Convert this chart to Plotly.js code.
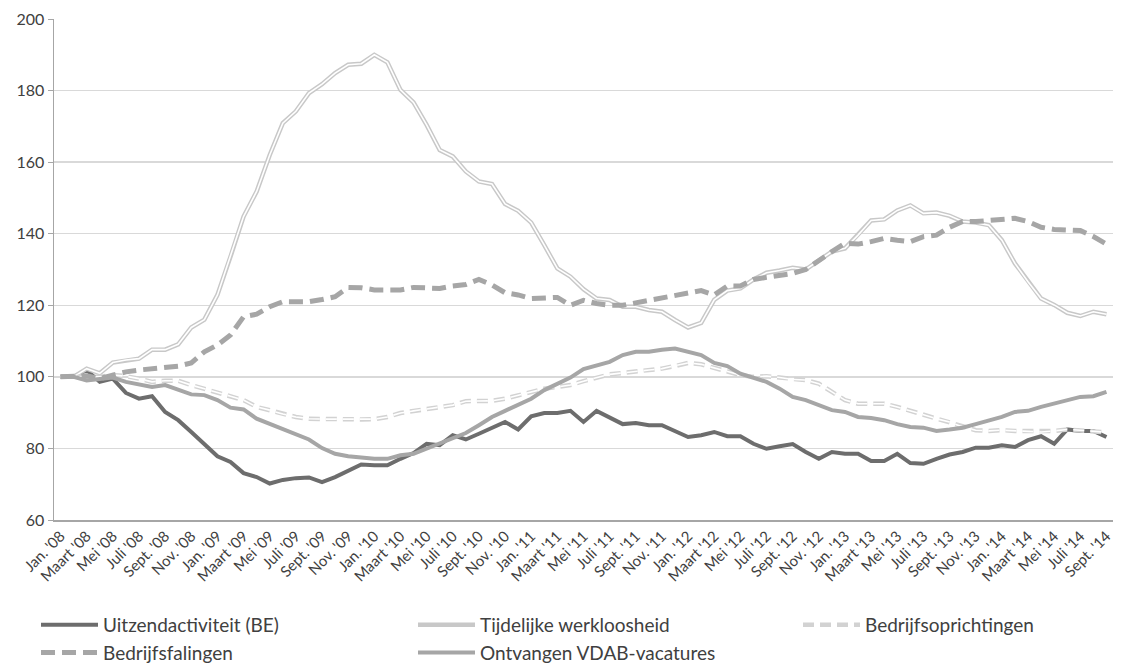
<!DOCTYPE html>
<html>
<head>
<meta charset="utf-8">
<script src="https://cdn.plot.ly/plotly-3.0.1.min.js"></script>
<style>
html,body{margin:0;padding:0;background:#fff;}
#chart{width:1126px;height:663px;}
</style>
</head>
<body>
<div id="chart"></div>
<script>
// Month labels (Jan. '08 .. Sept. '14), monthly data; labels shown every 2 months
const monthNames = ["Jan.", "Febr.", "Maart", "April", "Mei", "Juni", "Juli", "Aug.", "Sept.", "Okt.", "Nov.", "Dec."];
const years = ["08", "09", "10", "11", "12", "13", "14"];
const months = [];
years.forEach(y => monthNames.forEach(m => months.push(m + " '" + y)));
months.length = 81;

const uitzendactiviteit = [
  100, 100, 101.9, 98.6, 99.5, 95.5, 93.9, 94.6, 90.2, 87.9, 84.6, 81.3,
  77.8, 76.2, 73.1, 72.0, 70.2, 71.2, 71.7, 71.9, 70.6, 72.0, 73.8, 75.5,
  75.3, 75.3, 77.1, 78.7, 81.3, 80.9, 83.7, 82.5, 84.1, 85.8, 87.4, 85.3,
  89.0, 89.9, 89.9, 90.5, 87.4, 90.5, 88.8, 86.8, 87.1, 86.5, 86.5, 84.9,
  83.2, 83.7, 84.6, 83.4, 83.4, 81.3, 79.9, 80.6, 81.2, 79.0, 77.1, 79.0,
  78.5, 78.5, 76.5, 76.5, 78.5, 75.9, 75.7, 77.1, 78.3, 79.0, 80.2, 80.2,
  80.9, 80.4, 82.3, 83.4, 81.3, 85.3, 84.9, 84.9, 83.2
];
const tijdelijkeWerkloosheid = [
  100, 100, 102.3, 101.0, 104.0, 104.7, 105.1, 107.6, 107.6, 109.1, 113.8, 116.0,
  122.9, 133.6, 144.8, 151.8, 162.0, 170.9, 174.2, 179.3, 181.8, 184.9, 187.2, 187.5,
  190.0, 187.9, 180.2, 176.7, 170.4, 163.4, 161.6, 157.4, 154.6, 153.9, 148.3, 146.4,
  143.1, 136.8, 130.3, 128.0, 124.5, 121.9, 121.5, 119.6, 119.6, 118.7, 118.2, 115.9,
  113.8, 115.1, 121.5, 124.1, 124.7, 127.2, 129.1, 129.7, 130.5, 130.0, 132.6, 135.0,
  135.9, 139.6, 143.7, 144.0, 146.5, 147.9, 145.7, 145.9, 145.0, 143.4, 143.1, 142.4,
  138.2, 131.7, 126.6, 121.9, 120.1, 117.9, 117.0, 118.2, 117.5
];
const bedrijfsoprichtingen = [
  100, 100, 100, 100, 100.5, 100.2, 99.5, 98.6, 98.9, 98.9, 97.7, 96.7,
  95.8, 94.6, 93.5, 91.6, 90.7, 89.6, 88.8, 88.3, 88.2, 88.2, 88.2, 88.1,
  88.2, 88.8, 89.9, 90.5, 91.1, 91.6, 92.1, 93.2, 93.3, 93.3, 93.9, 94.9,
  95.8, 96.7, 97.2, 97.7, 98.8, 99.8, 100.7, 101.1, 101.4, 101.9, 102.3, 103.0,
  103.9, 103.5, 102.5, 101.4, 100.5, 100.0, 100.2, 99.8, 99.3, 99.1, 98.1, 95.8,
  93.5, 92.5, 92.4, 92.5, 91.6, 90.5, 89.3, 88.3, 87.4, 86.0, 85.1, 84.9,
  85.1, 84.9, 84.9, 84.6, 84.9, 85.3, 85.1, 84.9, 84.5
];
const bedrijfsfalingen = [
  100, 100, 100.3, 99.5, 100.5, 101.4, 101.9, 102.3, 102.6, 103.0, 103.9, 107.0,
  108.9, 111.7, 116.8, 117.5, 119.6, 121.0, 121.0, 121.0, 121.6, 122.4, 125.0, 124.9,
  124.3, 124.3, 124.3, 125.0, 124.7, 124.7, 125.4, 125.8, 127.2, 125.7, 123.5, 122.9,
  121.9, 121.9, 122.2, 120.0, 121.4, 120.5, 120.0, 120.0, 120.7, 121.5, 122.2, 122.9,
  123.5, 124.1, 122.9, 125.4, 125.4, 127.2, 127.8, 128.5, 128.9, 130.0, 132.6, 135.0,
  137.3, 137.1, 137.8, 138.7, 138.2, 137.8, 139.2, 139.6, 141.8, 143.4, 143.4, 143.6,
  143.8, 144.3, 143.4, 141.8, 141.2, 141.2, 140.9, 139.2, 137.1
];
const vdabVacatures = [
  100, 100, 99.0, 99.5, 99.8, 98.6, 97.9, 97.2, 97.7, 96.5, 95.1, 94.9,
  93.5, 91.4, 90.9, 88.3, 86.9, 85.5, 84.1, 82.5, 80.1, 78.5, 77.8, 77.4,
  77.1, 77.1, 78.1, 78.5, 79.9, 81.2, 82.7, 84.3, 86.5, 88.8, 90.5, 92.1,
  93.9, 96.3, 98.1, 99.8, 102.2, 103.3, 104.2, 106.1, 107.0, 107.0, 107.6, 107.9,
  107.0, 106.1, 103.9, 103.0, 100.9, 99.8, 98.6, 96.7, 94.4, 93.5, 92.1, 90.7,
  90.2, 88.8, 88.5, 87.9, 86.8, 86.0, 85.8, 84.9, 85.3, 85.8, 86.8, 87.9,
  88.8, 90.2, 90.5, 91.6, 92.5, 93.3, 94.4, 94.6, 95.8
];
const seriesNames = ["Uitzendactiviteit (BE)", "Tijdelijke werkloosheid", "Bedrijfsoprichtingen", "Bedrijfsfalingen", "Ontvangen VDAB-vacatures"];

const idx = months.map((_, i) => i);
const tickIdx = idx.filter(i => i % 2 === 0);
const tickText = tickIdx.map(i => months[i]);
const yearStarts = idx.filter(i => i % 12 === 0 && i > 0).map(i => i - 0.5);

const FONT = "Lato, 'Open Sans', sans-serif";
const traces = [
  {x: idx, y: uitzendactiviteit, name: seriesNames[0], mode: "lines", legend: "legend", legendgroup: "a",
   line: {color: "#6d6d6d", width: 4}},
  {x: idx, y: tijdelijkeWerkloosheid, name: seriesNames[1], mode: "lines", legend: "legend2", legendgroup: "b",
   line: {color: "#c8c8c8", width: 4.5}},
  {x: idx, y: tijdelijkeWerkloosheid, name: seriesNames[1], mode: "lines", showlegend: false, hoverinfo: "skip",
   line: {color: "#ffffff", width: 1.6}},
  {x: idx, y: bedrijfsoprichtingen, name: seriesNames[2], mode: "lines", legend: "legend3", legendgroup: "c",
   line: {color: "#d2d2d2", width: 4.5, dash: "11px,6px"}},
  {x: idx, y: bedrijfsoprichtingen, name: seriesNames[2], mode: "lines", showlegend: false, hoverinfo: "skip",
   line: {color: "#ffffff", width: 1.6, dash: "11px,6px"}},
  {x: idx, y: bedrijfsfalingen, name: seriesNames[3], mode: "lines", legend: "legend", legendgroup: "d",
   line: {color: "#a6a6a6", width: 5, dash: "14px,7px"}},
  {x: idx, y: vdabVacatures, name: seriesNames[4], mode: "lines", legend: "legend2", legendgroup: "e",
   line: {color: "#a6a6a6", width: 4}}
];

const legendBase = {
  orientation: "v", xref: "container", yref: "container", xanchor: "left", yanchor: "top",
  y: 1 - 606 / 663, bgcolor: "rgba(0,0,0,0)", borderwidth: 0,
  font: {family: FONT, size: 19, color: "#404040"}, itemwidth: 57, tracegroupgap: 0,
  traceorder: "grouped"
};

const layout = {
  width: 1126, height: 663,
  margin: {l: 54, r: 13, t: 19, b: 143, autoexpand: false},
  paper_bgcolor: "#ffffff", plot_bgcolor: "#ffffff",
  font: {family: FONT, color: "#404040"},
  showlegend: true,
  xaxis: {
    range: [-0.5, 80.5], tickmode: "array", tickvals: tickIdx, ticktext: tickText,
    tickangle: -45, tickfont: {size: 15, color: "#404040"},
    showgrid: false, zeroline: false, showline: true, linecolor: "#a6a6a6", linewidth: 1.5,
    ticks: "", automargin: false
  },
  xaxis2: {
    overlaying: "x", anchor: "y", side: "bottom", range: [-0.5, 80.5],
    tickmode: "array", tickvals: yearStarts, showticklabels: false,
    showgrid: true, griddash: "dash", gridcolor: "#d9d9d9", gridwidth: 1,
    ticks: "outside", ticklen: 5, tickcolor: "#a6a6a6", showline: false, zeroline: false
  },
  yaxis: {
    range: [60, 200], tickmode: "linear", tick0: 60, dtick: 20,
    tickfont: {size: 16, color: "#404040"},
    showgrid: true, gridcolor: "#d9d9d9", gridwidth: 1.3, zeroline: false,
    showline: true, linecolor: "#a6a6a6", linewidth: 1.5,
    ticks: "outside", ticklen: 5, tickcolor: "#a6a6a6", automargin: false
  },
  legend: Object.assign({}, legendBase, {x: 36 / 1126}),
  legend2: Object.assign({}, legendBase, {x: 413 / 1126}),
  legend3: Object.assign({}, legendBase, {x: 798 / 1126})
};

Plotly.newPlot("chart", traces, layout, {staticPlot: true, displayModeBar: false});
</script>
</body>
</html>
